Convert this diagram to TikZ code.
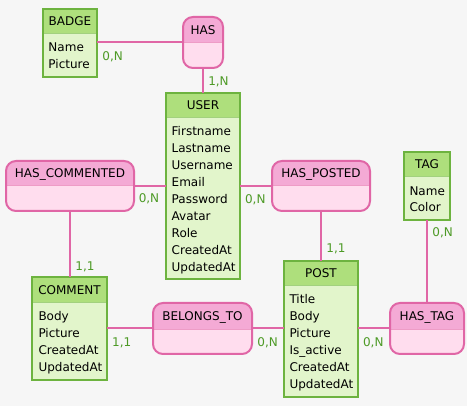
\documentclass[tikz,border=0pt]{standalone}
\usepackage{fontspec}
\setmainfont{DejaVu Sans}
\definecolor{bgc}{HTML}{F6F6F6}
\definecolor{entline}{HTML}{6DB33F}
\definecolor{enthead}{HTML}{AEDF7C}
\definecolor{entbody}{HTML}{E2F5CB}
\definecolor{relline}{HTML}{E066A6}
\definecolor{relhead}{HTML}{F4AAD5}
\definecolor{relbody}{HTML}{FFDDEE}
\definecolor{card}{HTML}{4D9A26}
\tikzset{
  place/.style={draw=none,inner sep=0pt,outer sep=0pt,anchor=north west},
  conn/.style={draw=relline,line width=2pt},
  title/.style={anchor=base,inner sep=0pt,text=black},
  attr/.style={anchor=base west,inner sep=0pt,text=black},
  card/.style={anchor=base,inner sep=0pt,text=card},
}
% name x1 y1 x2 y2 header-bottom
\newcommand\entbox[6]{%
  \node[place,minimum width={(#4-#2)*1pt},minimum height={(#5-#3)*1pt}] (#1) at (#2,#3) {};
  \fill[entbody] (#2,#3) rectangle (#4,#5);
  \fill[enthead] (#2,#3) rectangle (#4,#6);
  \draw[entline!55!entbody,line width=1pt] (#2,#6) -- (#4,#6);
  \draw[entline,line width=2pt] (#2,#3) rectangle (#4,#5);
}
\newcommand\relbox[6]{%
  \node[place,minimum width={(#4-#2)*1pt},minimum height={(#5-#3)*1pt}] (#1) at (#2,#3) {};
  \begin{scope}
    \clip[rounded corners=10pt] (#2,#3) rectangle (#4,#5);
    \fill[relbody] (#2,#3) rectangle (#4,#5);
    \fill[relhead] (#2,#3) rectangle (#4,#6);
    \draw[relline!55!relbody,line width=1pt] (#2,#6) -- (#4,#6);
  \end{scope}
  \draw[relline,line width=2pt,rounded corners=10pt] (#2,#3) rectangle (#4,#5);
}
\begin{document}
\begin{tikzpicture}[x=1pt,y=-1pt,font=\fontsize{12}{14}\selectfont]
\fill[bgc] (0,0) rectangle (467,406);
\useasboundingbox (0,0) rectangle (467,406);

% entities
\entbox{badge}{43}{9}{97}{77}{34}
\node[title] (tbadge) at (70,25.8) {BADGE};
\node[attr] (ab1) at (48.3,51.8) {Name};
\node[attr] (ab2) at (48.3,68.8) {Picture};

\entbox{user}{166}{93}{240}{279}{118}
\node[title] (tuser) at (203,109.8) {USER};
\foreach \t [count=\i from 0] in {Firstname,Lastname,Username,Email,Password,Avatar,Role,CreatedAt,UpdatedAt}
  \node[attr] (au\i) at (171.5,{135.3+17*\i}) {\t};

\entbox{comment}{32}{277}{107}{380}{303}
\node[title] (tcomment) at (69.5,294.3) {COMMENT};
\foreach \t [count=\i from 0] in {Body,Picture,CreatedAt,UpdatedAt}
  \node[attr] (ac\i) at (38.3,{320.8+17*\i}) {\t};

\entbox{post}{284}{261}{358}{397}{286}
\node[title] (tpost) at (321,277.8) {POST};
\foreach \t [count=\i from 0] in {Title,Body,Picture,Is\_active,CreatedAt,UpdatedAt}
  \node[attr] (ap\i) at (289.3,{303.8+17*\i}) {\t};

\entbox{tag}{404}{152}{450}{220}{177}
\node[title] (ttag) at (427,168.8) {TAG};
\node[attr] (at1) at (409.3,195.3) {Name};
\node[attr] (at2) at (409.3,211.8) {Color};

% relationships
\relbox{has}{183}{17}{223}{68}{43}
\node[title] (thas) at (203,34.3) {HAS};

\relbox{hascom}{6}{161}{134}{211}{186}
\node[title] (thascom) at (70,177.8) {HAS\_COMMENTED};

\relbox{haspost}{272}{161}{370}{211}{186}
\node[title] (thaspost) at (321,177.8) {HAS\_POSTED};

\relbox{belongs}{153}{303}{252}{354}{330}
\node[title] (tbelongs) at (202.5,320.8) {BELONGS\_TO};

\relbox{hastag}{390}{303}{464}{354}{330}
\node[title] (thastag) at (427,320.8) {HAS\_TAG};

% connectors
\draw[conn] (badge.east |- has.west) -- (has.west);
\draw[conn] (has.south) -- (has.south -| user.north) -- (user.north);
\draw[conn] (hascom.east) -- (hascom.east -| user.west);
\draw[conn] (hascom.south) -- (hascom.south |- comment.north);
\draw[conn] (user.east |- haspost.west) -- (haspost.west);
\draw[conn] (haspost.south) -- (haspost.south |- post.north);
\draw[conn] (tag.south) -- (tag.south |- hastag.north);
\draw[conn] (comment.east) -- (comment.east -| belongs.west);
\draw[conn] (belongs.east) -- (belongs.east -| post.west);
\draw[conn] (post.east |- hastag.west) -- (hastag.west);

% cardinalities
\node[card] (c1) at (112.7,60.2) {0,N};
\node[card] (c2) at (218.5,85.2) {1,N};
\node[card] (c3) at (149,202.2) {0,N};
\node[card] (c4) at (85,270.2) {1,1};
\node[card] (c5) at (255.3,203.2) {0,N};
\node[card] (c6) at (336,252.9) {1,1};
\node[card] (c7) at (442.7,236.5) {0,N};
\node[card] (c8) at (121.7,346.2) {1,1};
\node[card] (c9) at (267.7,346.2) {0,N};
\node[card] (c10) at (373.3,346.2) {0,N};
\end{tikzpicture}
\end{document}
